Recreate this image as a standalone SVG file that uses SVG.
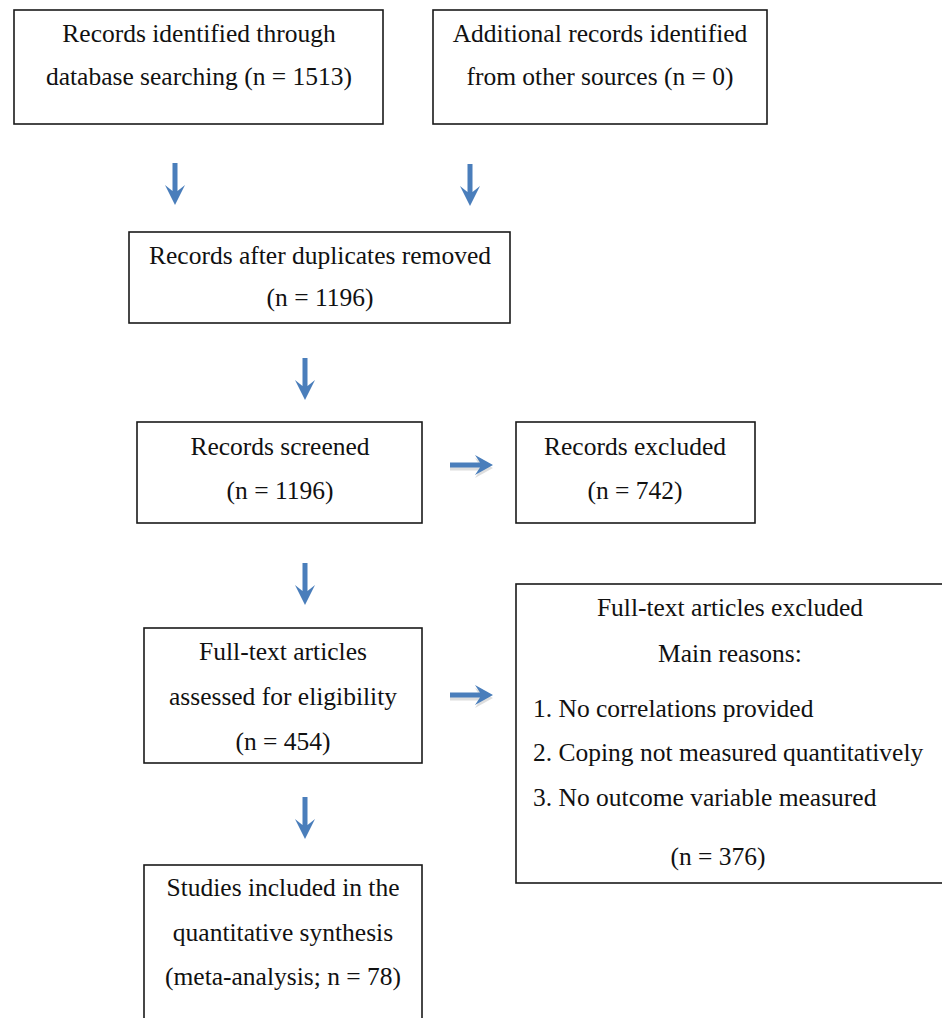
<svg xmlns="http://www.w3.org/2000/svg" width="942" height="1018" viewBox="0 0 942 1018">
<defs>
<style>
.box{fill:#fff;stroke:#1a1a1a;stroke-width:1.6}
.t{font-family:"Liberation Serif","Times New Roman",serif;font-size:25.5px;fill:#111}
.c{text-anchor:middle}
.arr{fill:#4a7ebb}
.sh{fill:#c8c8c8;opacity:0.6}
</style>
<path id="down" d="M0,0 L-10,-20 L-2.5,-14 L-2.5,-42 L2.5,-42 L2.5,-14 L10,-20 Z"/>
<path id="right" d="M0,0 L-18,-10 L-13,-2.5 L-43,-2.5 L-43,2.5 L-13,2.5 L-18,10 Z"/>
</defs>
<rect width="942" height="1018" fill="#fff"/>
<g id="connectors">
<use href="#down" class="arr" x="175" y="205"/>
<use href="#down" class="arr" x="470" y="206"/>
<use href="#down" class="arr" x="305" y="400"/>
<use href="#down" class="arr" x="305" y="605"/>
<use href="#down" class="arr" x="305" y="839"/>
<use href="#right" class="sh" x="493" y="468"/>
<use href="#right" class="arr" x="493" y="465"/>
<use href="#right" class="sh" x="493" y="698"/>
<use href="#right" class="arr" x="493" y="695"/>
</g>
<g id="n1"><rect class="box" x="14" y="10" width="369" height="114"/>
<text class="t c" x="199" y="42">Records identified through</text>
<text class="t c" x="199" y="85">database searching (n = 1513)</text></g>
<g id="n2"><rect class="box" x="433" y="10" width="334" height="114"/>
<text class="t c" x="600" y="42">Additional records identified</text>
<text class="t c" x="600" y="85">from other sources (n = 0)</text></g>
<g id="n3"><rect class="box" x="129" y="232" width="381" height="91"/>
<text class="t c" x="320" y="264">Records after duplicates removed</text>
<text class="t c" x="320" y="306">(n = 1196)</text></g>
<g id="n4"><rect class="box" x="137" y="422" width="285" height="101"/>
<text class="t c" x="280" y="455">Records screened</text>
<text class="t c" x="280" y="499">(n = 1196)</text></g>
<g id="n5"><rect class="box" x="516" y="422" width="239" height="101"/>
<text class="t c" x="635" y="455">Records excluded</text>
<text class="t c" x="635" y="499">(n = 742)</text></g>
<g id="n6"><rect class="box" x="144" y="628" width="278" height="135"/>
<text class="t c" x="283" y="660">Full-text articles</text>
<text class="t c" x="283" y="705">assessed for eligibility</text>
<text class="t c" x="283" y="750">(n = 454)</text></g>
<g id="n7"><rect class="box" x="516" y="584" width="440" height="299"/>
<text class="t c" x="730" y="616">Full-text articles excluded</text>
<text class="t c" x="730" y="662">Main reasons:</text>
<text class="t" x="533" y="717">1. No correlations provided</text>
<text class="t" x="533" y="761">2. Coping not measured quantitatively</text>
<text class="t" x="533" y="806">3. No outcome variable measured</text>
<text class="t c" x="718" y="865">(n = 376)</text></g>
<g id="n8"><rect class="box" x="144" y="865" width="278" height="170"/>
<text class="t c" x="283" y="896">Studies included in the</text>
<text class="t c" x="283" y="941">quantitative synthesis</text>
<text class="t c" x="283" y="985">(meta-analysis; n = 78)</text></g>
</svg>
